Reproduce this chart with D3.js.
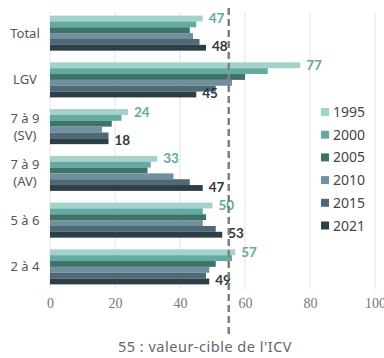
<!DOCTYPE html>
<html>
<head>
<meta charset="utf-8">
<script src="https://cdn.jsdelivr.net/npm/d3@7"></script>
<style>
  html, body { margin: 0; padding: 0; background: #fff; }
  svg { display: block; }
</style>
</head>
<body>
<svg id="chart" width="384" height="358"></svg>
<script>
// Categories (top to bottom) and survey years
const categories = ["Total", "LGV", "7 à 9\n(SV)", "7 à 9\n(AV)", "5 à 6", "2 à 4"];
const years = ["1995", "2000", "2005", "2010", "2015", "2021"];

// Values per year, in category order
const v1995 = [47, 77, 24, 33, 50, 57];
const v2000 = [45, 67, 22, 31, 47, 56];
const v2005 = [43, 60, 19, 30, 48, 51];
const v2010 = [44, 56, 16, 38, 47, 49];
const v2015 = [46, 51, 18, 43, 51, 48];
const v2021 = [48, 45, 18, 47, 53, 49];
const seriesValues = [v1995, v2000, v2005, v2010, v2015, v2021];

const xTicks = [0, 20, 40, 60, 80, 100];
const targetValue = 55;
const targetLabel = "55 : valeur-cible de l'ICV";

const colors = ["#a3d2cb", "#62aaa2", "#3d7369", "#6f909c", "#4e6a79", "#2d3e46"];

const svg = d3.select("#chart");

const x = d3.scaleLinear().domain([0, 100]).range([50, 375]);
const y = d3.scaleBand().domain(categories).range([10, 290]).paddingInner(0.25).paddingOuter(0.12);
const ySub = d3.scaleBand().domain(years).range([0, y.bandwidth()]);

// Vertical gridlines
svg.append("g").selectAll("line").data(xTicks).join("line")
  .attr("x1", d => x(d)).attr("x2", d => x(d))
  .attr("y1", 12).attr("y2", 289)
  .attr("stroke", "#e4e4e4").attr("stroke-width", 1);

// Bars
const groups = svg.append("g").selectAll("g").data(categories).join("g")
  .attr("transform", d => `translate(0,${y(d)})`);

groups.selectAll("rect")
  .data((c, ci) => years.map((yr, si) => ({ yr, si, value: seriesValues[si][ci] })))
  .join("rect")
  .attr("x", x(0))
  .attr("y", d => ySub(d.yr))
  .attr("width", d => x(d.value) - x(0))
  .attr("height", ySub.bandwidth())
  .attr("fill", d => colors[d.si]);

// Value labels for first and last year
groups.each(function(c, ci) {
  const g = d3.select(this);
  const first = v1995[ci], last = v2021[ci];
  g.append("text")
    .attr("x", x(first) + 6)
    .attr("y", ySub("1995") + ySub.bandwidth() / 2)
    .attr("dy", "0.35em")
    .attr("font-family", "Lato, 'Noto Sans', sans-serif")
    .attr("font-weight", "bold")
    .attr("font-size", 13.5)
    .attr("fill", "#62aaa2")
    .text(first);
  g.append("text")
    .attr("x", x(last) + 6)
    .attr("y", ySub("2021") + ySub.bandwidth() / 2 - 1)
    .attr("dy", "0.35em")
    .attr("font-family", "Lato, 'Noto Sans', sans-serif")
    .attr("font-weight", "bold")
    .attr("font-size", 13.5)
    .attr("fill", "#2d3a40")
    .text(last);
});

// Category labels
svg.append("g").selectAll("text").data(categories).join("text")
  .attr("text-anchor", "middle")
  .attr("font-family", "'Noto Sans', sans-serif")
  .attr("font-size", 13)
  .attr("fill", "#555")
  .each(function(d) {
    const lines = d.split("\n");
    const cy = y(d) + y.bandwidth() / 2;
    const t = d3.select(this);
    lines.forEach((ln, i) => {
      t.append("tspan")
        .attr("x", 25)
        .attr("y", cy + (i - (lines.length - 1) / 2) * 17)
        .attr("dy", "0.35em")
        .text(ln);
    });
  });

// X axis tick labels
const xAxis = d3.axisBottom(x).tickValues(xTicks).tickSize(0).tickPadding(0);
const axisG = svg.append("g").attr("transform", "translate(0,298)").call(xAxis);
axisG.select(".domain").remove();
axisG.selectAll("text")
  .attr("font-family", "'Liberation Serif', serif")
  .attr("font-size", 14)
  .attr("fill", "#777");

// Target reference line
svg.append("line")
  .attr("x1", x(targetValue)).attr("x2", x(targetValue))
  .attr("y1", 8).attr("y2", 338)
  .attr("stroke", "#808080")
  .attr("stroke-width", 2.5)
  .attr("stroke-dasharray", "7,4");

svg.append("text")
  .attr("x", 205).attr("y", 352)
  .attr("text-anchor", "middle")
  .attr("font-family", "'Noto Sans', sans-serif")
  .attr("font-size", 14.5)
  .attr("letter-spacing", 0.5)
  .attr("fill", "#666")
  .text(targetLabel);

// Legend
const legend = svg.append("g").selectAll("g").data(years).join("g")
  .attr("transform", (d, i) => `translate(321,${112 + i * 22.7})`);
legend.append("rect")
  .attr("x", 0).attr("y", -4).attr("width", 8).attr("height", 8)
  .attr("fill", (d, i) => colors[i]);
legend.append("text")
  .attr("x", 12).attr("y", 0).attr("dy", "0.36em")
  .attr("font-family", "'Noto Sans', sans-serif")
  .attr("font-size", 14)
  .attr("fill", "#444")
  .text(d => d);
</script>
</body>
</html>
